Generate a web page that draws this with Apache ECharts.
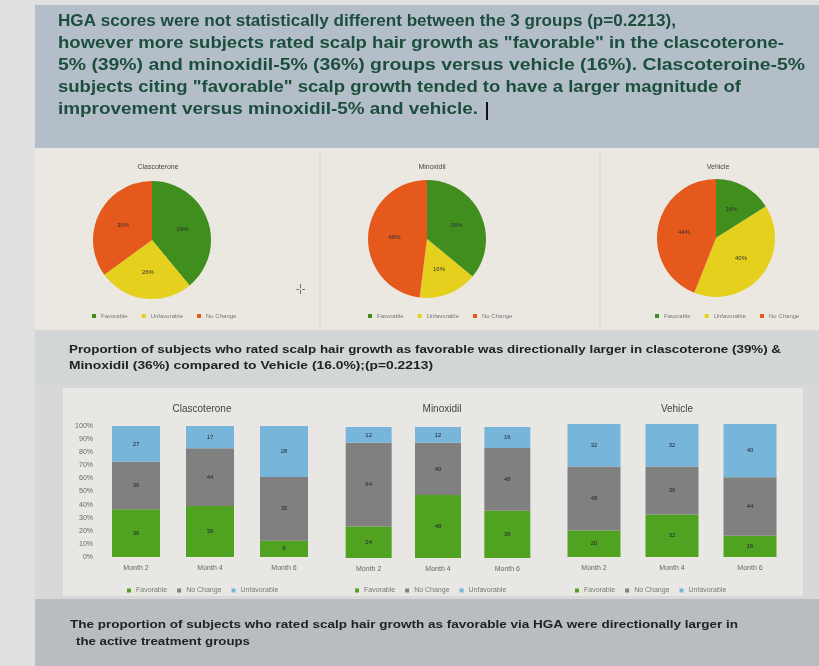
<!DOCTYPE html>
<html><head><meta charset="utf-8">
<script src="https://cdn.jsdelivr.net/npm/echarts@6/dist/echarts.min.js"></script>
<style>html,body{margin:0;padding:0;background:#dfe1e1}#c{width:819px;height:666px}</style>
</head><body><div id="c"></div><script>
// ---- data ----
const groups = ['Clascoterone', 'Minoxidil', 'Vehicle'];
const pieCategories = ['Favorable', 'Unfavorable', 'No Change'];
const pieClascoterone = [39, 26, 35];
const pieMinoxidil = [36, 16, 48];
const pieVehicle = [16, 40, 44];

const months = ['Month 2', 'Month 4', 'Month 6'];
const barCategories = ['Favorable', 'No Change', 'Unfavorable'];
const clascoteroneFavorable = [36, 39, 9];
const clascoteroneNoChange = [36, 44, 35];
const clascoteroneUnfavorable = [27, 17, 28];
const minoxidilFavorable = [24, 48, 36];
const minoxidilNoChange = [64, 40, 48];
const minoxidilUnfavorable = [12, 12, 16];
const vehicleFavorable = [20, 32, 16];
const vehicleNoChange = [48, 36, 44];
const vehicleUnfavorable = [32, 32, 40];
const yTickLabels = ['0%','10%','20%','30%','40%','50%','60%','70%','80%','90%','100%'];

const headerLines = [
  'HGA scores were not statistically different between the 3 groups (p=0.2213),',
  'however more subjects rated scalp hair growth as "favorable" in the clascoterone-',
  '5% (39%) and minoxidil-5% (36%) groups versus vehicle (16%). Clascoteroine-5%',
  'subjects citing "favorable" scalp growth tended to have a larger magnitude of',
  'improvement versus minoxidil-5% and vehicle.'
];
const middleLines = [
  'Proportion of subjects who rated scalp hair growth as favorable was directionally larger in clascoterone (39%) &',
  'Minoxidil (36%) compared to Vehicle (16.0%);(p=0.2213)'
];
const footerLines = [
  'The proportion of subjects who rated scalp hair growth as favorable via HGA were directionally larger in',
  'the active treatment groups'
];

// ---- layout / styling ----
const FONT = '"Liberation Sans", Arial, sans-serif';
const headerLayout = {x: 58, y: 13, lh: 22, font: 'bold 17px ' + FONT, fill: '#1b4e3c', widths: [618, 726, 747, 683, 420], xo: [0, 0, 0, 0, 0]};
const middleLayout = {x: 69, y: 344, lh: 16, font: 'bold 11px ' + FONT, fill: '#222', widths: [712, 364], xo: [0, 0]};
const footerLayout = {x: 70, y: 619, lh: 17, font: 'bold 11px ' + FONT, fill: '#222', widths: [668, 174], xo: [0, 6]};
const pieColors = ['#3f8e1e', '#e6d01e', '#e5591d'];
const barColors = ['#4fa321', '#808080', '#77b6da'];

const measureCtx = document.createElement('canvas').getContext('2d');
function textBlock(lines, L) {
  return lines.map((t, i) => {
    measureCtx.font = L.font;
    const w = measureCtx.measureText(t).width;
    return {type: 'text', x: L.x + L.xo[i], y: L.y + i * L.lh, scaleX: L.widths[i] / w,
      style: {text: t, font: L.font, fill: L.fill}, z: 5};
  });
}

const chart = echarts.init(document.getElementById('c'), null, {renderer: 'canvas'});

const pieData = [pieClascoterone, pieMinoxidil, pieVehicle];
const pieCenters = [[152, 240], [427, 239], [716, 238]];
const pieRadius = 59;

const barSets = [
  [clascoteroneFavorable, clascoteroneNoChange, clascoteroneUnfavorable],
  [minoxidilFavorable, minoxidilNoChange, minoxidilUnfavorable],
  [vehicleFavorable, vehicleNoChange, vehicleUnfavorable]
];
const grids = [
  {left: 99, width: 222, top: 426, height: 131},
  {left: 334, width: 208, top: 427, height: 131},
  {left: 555, width: 234, top: 424, height: 133}
];
const barWidths = [48, 46, 53];

const series = [];
groups.forEach((g, gi) => {
  series.push({
    type: 'pie', name: 'pie' + g, center: pieCenters[gi], radius: pieRadius,
    startAngle: 90, clockwise: true, silent: true,
    label: {position: 'inside', formatter: '{c}%', fontSize: 6, color: '#333', fontFamily: FONT},
    labelLine: {show: false},
    itemStyle: {borderWidth: 0},
    data: pieCategories.map((c, i) => ({name: 'p:' + c, value: pieData[gi][i], itemStyle: {color: pieColors[i]}}))
  });
  const sets = barSets[gi];
  const totals = months.map((m, mi) => sets.reduce((s, arr) => s + arr[mi], 0));
  barCategories.forEach((bc, bi) => {
    series.push({
      type: 'bar', name: 'b:' + bc, stack: 'g' + gi, xAxisIndex: gi, yAxisIndex: gi,
      barWidth: barWidths[gi], silent: true,
      itemStyle: {color: barColors[bi]},
      label: {show: true, position: 'inside', fontSize: 6, color: '#223', fontFamily: FONT,
        formatter: p => String(sets[bi][p.dataIndex])},
      data: sets[bi].map((v, mi) => v / totals[mi] * 100)
    });
  });
});

const xAxis = grids.map((g, gi) => ({
  type: 'category', gridIndex: gi, data: months,
  axisLine: {show: false}, axisTick: {show: false},
  axisLabel: {fontSize: 7, color: '#666', fontFamily: FONT, margin: 8}
}));
const yAxis = grids.map((g, gi) => ({
  type: 'value', gridIndex: gi, min: 0, max: 100, interval: 10,
  axisLine: {show: false}, axisTick: {show: false},
  splitLine: {show: false},
  axisLabel: {show: gi === 0, fontSize: 7, color: '#666', fontFamily: FONT,
    formatter: v => yTickLabels[Math.round(v / 10)], margin: 6}
}));

const pieLegendX = [87, 363, 650];
const barLegendX = [122, 350, 570];
const legends = [];
groups.forEach((g, gi) => {
  legends.push({
    left: pieLegendX[gi], top: 308, itemWidth: 4, itemHeight: 4, itemGap: 14,
    icon: 'rect', selectedMode: false,
    data: pieCategories.map((c, i) => ({name: 'p:' + c, itemStyle: {color: pieColors[i]}})),
    formatter: n => n.slice(2),
    textStyle: {fontSize: 6, color: '#777', fontFamily: FONT}
  });
  legends.push({
    left: barLegendX[gi], top: 582, itemWidth: 4, itemHeight: 4, itemGap: 10,
    icon: 'rect', selectedMode: false,
    data: barCategories.map((c, i) => ({name: 'b:' + c, itemStyle: {color: barColors[i]}})),
    formatter: n => n.slice(2),
    textStyle: {fontSize: 7, color: '#777', fontFamily: FONT}
  });
});

const pieTitleX = [153, 427, 713];
const barTitleX = [197, 437, 672];
const titles = [];
groups.forEach((g, gi) => {
  titles.push({text: g, left: pieTitleX[gi], top: 159, textAlign: 'center',
    textStyle: {fontSize: 7, fontWeight: 'normal', color: '#444', fontFamily: FONT}});
  titles.push({text: g, left: barTitleX[gi], top: 399, textAlign: 'center',
    textStyle: {fontSize: 10, fontWeight: 'normal', color: '#444', fontFamily: FONT}});
});

const graphic = [
  {type: 'rect', shape: {x: 0, y: 0, width: 819, height: 666}, style: {fill: '#dfe1e1'}, z: -10},
  {type: 'rect', shape: {x: 35, y: 5, width: 784, height: 143}, style: {fill: '#b4bec8'}, z: -9},
  {type: 'rect', shape: {x: 35, y: 148, width: 784, height: 182}, style: {fill: '#ebe8e1'}, z: -9},
  {type: 'line', shape: {x1: 320, y1: 152, x2: 320, y2: 328}, style: {stroke: '#d4d1ca', lineWidth: 1}, z: -8},
  {type: 'line', shape: {x1: 600, y1: 152, x2: 600, y2: 328}, style: {stroke: '#d4d1ca', lineWidth: 1}, z: -8},
  {type: 'rect', shape: {x: 35, y: 330, width: 784, height: 55}, style: {fill: '#d3d6d6'}, z: -9},
  {type: 'rect', shape: {x: 35, y: 385, width: 784, height: 214}, style: {fill: '#d7d9d9'}, z: -9},
  {type: 'rect', shape: {x: 63, y: 388, width: 740, height: 208}, style: {fill: '#e8e7e3'}, z: -8},
  {type: 'rect', shape: {x: 35, y: 599, width: 784, height: 67}, style: {fill: '#b9bdc0'}, z: -9},
  {type: 'rect', shape: {x: 486, y: 102, width: 2, height: 18}, style: {fill: '#111'}, z: 5},
  {type: 'text', x: 296, y: 284, style: {text: '-¦-', font: '10px ' + FONT, fill: '#555'}, z: 5}
].concat(textBlock(headerLines, headerLayout), textBlock(middleLines, middleLayout), textBlock(footerLines, footerLayout));

chart.setOption({
  animation: false,
  backgroundColor: '#dfe1e1',
  title: titles,
  legend: legends,
  grid: grids,
  xAxis: xAxis,
  yAxis: yAxis,
  series: series,
  graphic: graphic
});
</script></body></html>
